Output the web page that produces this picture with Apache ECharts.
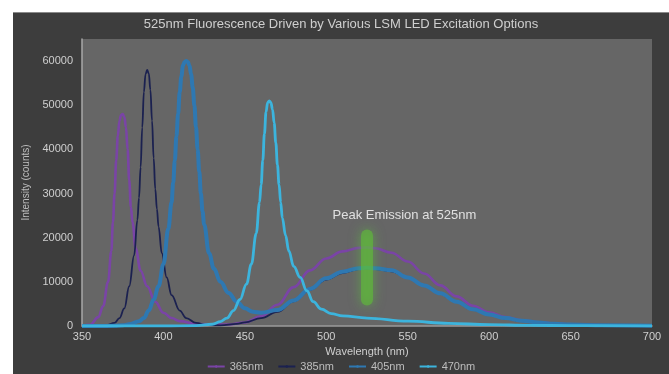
<!DOCTYPE html>
<html><head><meta charset="utf-8">
<script src="https://cdn.jsdelivr.net/npm/echarts@6/dist/echarts.min.js"></script>
<style>
html,body{margin:0;padding:0;background:#fff;width:669px;height:374px;overflow:hidden}
#panel{position:absolute;left:13px;top:12px;width:656px;height:362px;background:#3d3d3d;border-top:1px solid #8a8a8a;box-sizing:border-box}
#c{position:absolute;left:0;top:0;width:656px;height:361px}
</style></head>
<body><div id="panel"><div id="c"></div></div>
<script>
const titleText = "525nm Fluorescence Driven by Various LSM LED Excitation Options";
const seriesNames = ["365nm", "385nm", "405nm", "470nm"];
const xTicks = {min: 350, max: 700, step: 50};
const yTicks = {min: 0, max: 65000, step: 10000};

const led365 = [[350,0],[355,300],[360,2000],[363,4500],[366,10000],[368,17000],[369,23500],[370,30000],[371,37500],[372,43000],[373,46500],[374,47800],[375,48000],[376,47300],[377,45000],[378,40000],[379,33000],[380,27000],[381,23500],[383,17500],[386,12500],[390,9000],[395,5500],[400,3000],[405,1800],[410,1100],[420,500],[430,300],[440,350],[450,800],[460,2200],[470,4800],[480,8800],[490,12600],[500,15300],[510,16900],[520,17700],[525,17800],[530,17600],[540,16600],[550,14600],[560,11900],[570,9200],[580,6700],[590,4600],[600,3100],[610,2000],[620,1300],[630,850],[640,550],[650,350],[670,150],[700,50]];
const led385 = [[350,0],[360,0],[365,150],[370,700],[373,1800],[376,4000],[379,9000],[382,16000],[384,24000],[385,29000],[386,36000],[387,45000],[388,53000],[389,57000],[390,58000],[391,57200],[392,53500],[393,46500],[394,38000],[395,31000],[396,26500],[397,22500],[399,16500],[402,11000],[405,7000],[410,3500],[414,1800],[420,700],[427,200],[435,150],[445,500],[450,800],[460,1800],[470,3200],[480,5600],[490,8200],[500,10500],[510,12000],[520,12900],[525,13000],[530,12900],[540,12400],[550,10900],[560,9100],[570,7300],[580,5400],[590,3700],[600,2500],[610,1700],[620,1100],[630,750],[640,500],[650,330],[670,140],[700,40]];
const led405 = [[350,0],[360,0],[370,50],[375,150],[380,450],[385,1100],[388,1800],[391,3500],[394,6000],[397,9000],[400,14000],[403,22000],[405,28000],[406,32500],[407,37500],[408,43000],[409,48000],[410,53000],[411,56500],[412,59000],[413,59800],[414,60000],[415,59800],[416,59000],[417,57000],[418,54000],[419,50000],[420,45000],[421,40000],[422,35000],[423,30000],[424,26000],[425,23000],[428,16500],[431,13000],[435,10000],[440,7500],[445,5500],[450,4000],[455,3200],[460,3000],[470,3600],[480,5800],[490,8400],[500,10800],[510,12300],[520,13100],[525,13200],[530,13100],[540,12600],[550,11000],[560,9200],[570,7400],[580,5500],[590,3800],[600,2600],[610,1800],[620,1200],[630,800],[640,500],[650,350],[670,150],[700,50]];
const led470 = [[350,0],[400,0],[420,100],[430,400],[435,1000],[439,1800],[443,3500],[447,6000],[451,9500],[454,14000],[457,21000],[459,28000],[460,32000],[461,37500],[462,43500],[463,48500],[464,50600],[465,51000],[466,50600],[467,49000],[468,46000],[469,41500],[470,36500],[471,32000],[472,28000],[473,24500],[475,20500],[477,17000],[480,13500],[484,11000],[488,8000],[492,5500],[497,3800],[503,2800],[510,2300],[525,1800],[550,1100],[575,600],[600,300],[625,150],[650,80],[700,30]];
const peakBar = [[525,6000],[525,20500]];
const peakLabel = {text: "Peak Emission at 525nm", x: 548, y: 25000};

const colors = ["#7a44a6", "#1b2150", "#2e78b2", "#3cb4dd"];
const widths = [2.6, 1.8, 4, 2.8];
const datasets = [led365, led385, led405, led470];

const chart = echarts.init(document.getElementById('c'));
const font = "'Liberation Sans', Arial, sans-serif";
const series = datasets.map((d, i) => ({
  name: seriesNames[i], type: 'line', data: d, smooth: 0.4, smoothMonotone: 'x',
  symbol: 'none', lineStyle: {color: colors[i], width: widths[i], join: 'round'}, itemStyle: {color: colors[i]}
}));
series.push({
  name: 'peak', type: 'line', data: peakBar, symbol: 'none', silent: true,
  lineStyle: {color: 'rgba(95,190,55,0.6)', width: 12, cap: 'round', shadowBlur: 12, shadowColor: 'rgba(90,200,60,0.9)'},
  markPoint: {symbol: 'circle', symbolSize: 0.1, silent: true,
    data: [{coord: [peakLabel.x, peakLabel.y], value: 0}],
    label: {show: true, formatter: peakLabel.text, color: '#e0e0e0', fontSize: 13, fontFamily: font, position: 'inside'}}
});
chart.setOption({
  animation: false,
  backgroundColor: 'transparent',
  color: colors,
  title: {text: titleText, left: 'center', top: 0, textStyle: {color: '#cfcfcf', fontSize: 13, fontWeight: 'normal', fontFamily: font}},
  legend: {data: seriesNames, left: 'center', top: 343, itemWidth: 17, itemHeight: 3, itemGap: 14,
    textStyle: {color: '#bdbdbd', fontSize: 11, fontFamily: font}},
  grid: {left: 69, top: 26, right: 17, bottom: 48, show: true, backgroundColor: '#666666', borderWidth: 0},
  xAxis: {type: 'value', min: xTicks.min, max: xTicks.max, interval: xTicks.step,
    name: 'Wavelength (nm)', nameLocation: 'middle', nameGap: 16,
    nameTextStyle: {color: '#cfcfcf', fontSize: 11, fontFamily: font},
    axisLine: {show: true, lineStyle: {color: '#9a9a9a', width: 1.5}}, axisTick: {show: false}, splitLine: {show: false},
    axisLabel: {color: '#cfcfcf', fontSize: 11, margin: 5, fontFamily: font}},
  yAxis: {type: 'value', min: yTicks.min, max: yTicks.max, interval: yTicks.step,
    name: 'Intensity (counts)', nameLocation: 'middle', nameGap: 47, nameRotate: 90,
    nameTextStyle: {color: '#bdbdbd', fontSize: 10, fontFamily: font},
    axisLine: {show: true, lineStyle: {color: '#a8a8a8', width: 1.5}}, axisTick: {show: false}, splitLine: {show: false},
    axisLabel: {color: '#cfcfcf', fontSize: 11, margin: 9, fontFamily: font, showMaxLabel: false, formatter: v => String(v)}},
  series: series
});
</script></body></html>
